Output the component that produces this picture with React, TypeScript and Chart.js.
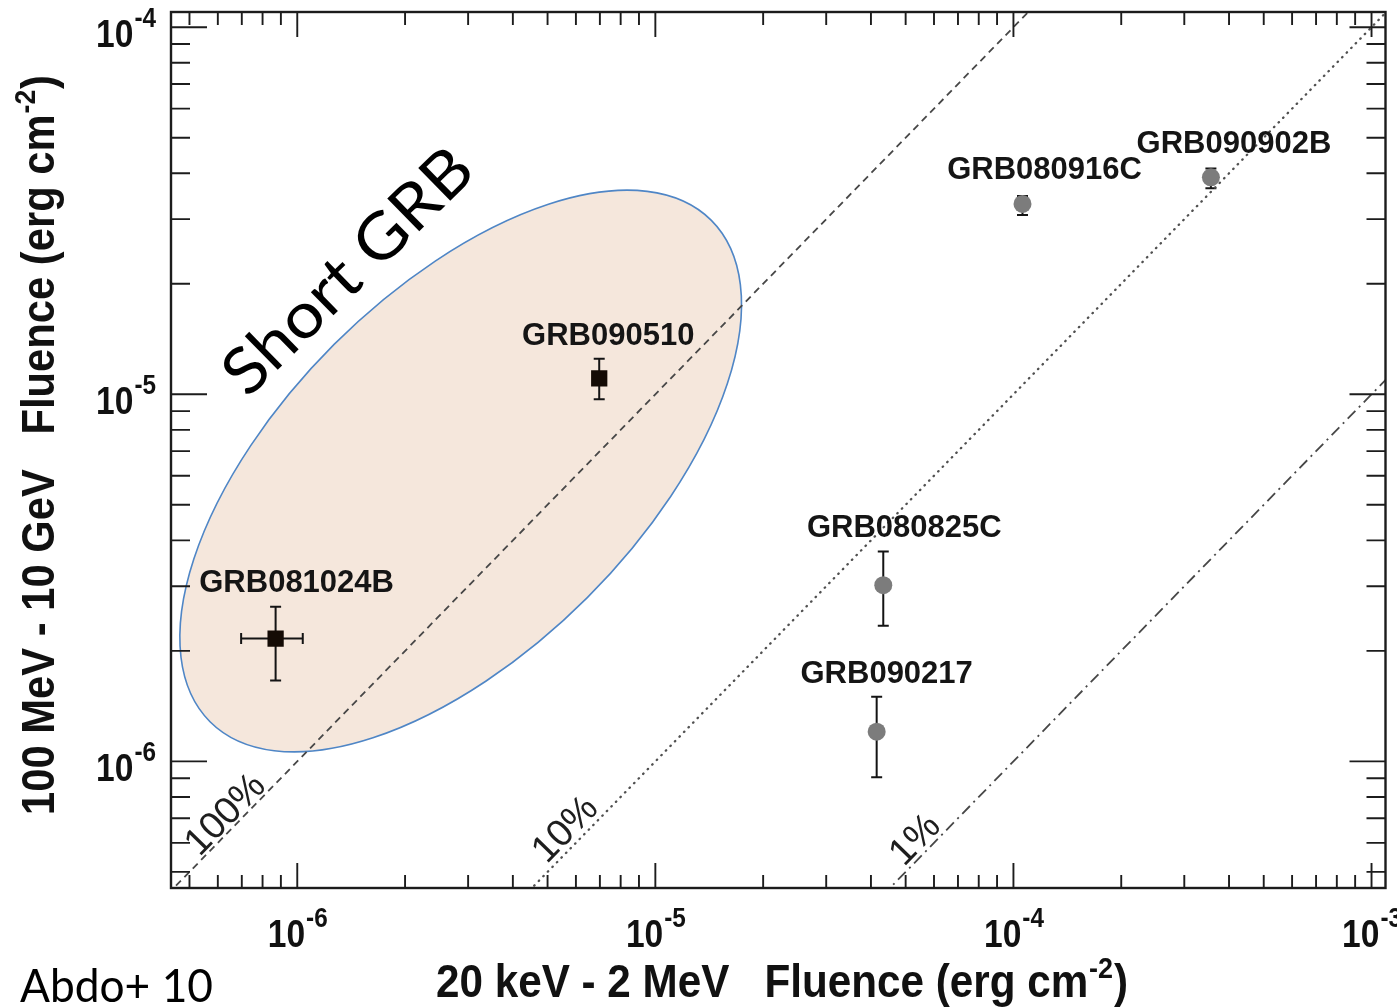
import { useEffect, useRef } from "react";
import { Chart, registerables } from "chart.js";

Chart.register(...registerables);

const W = 1397;
const H = 1007;

// Bursts detected by Fermi LAT, fluences in erg cm^-2
const burstNames = ["GRB081024B", "GRB090510", "GRB080825C", "GRB090217", "GRB080916C", "GRB090902B"];
const isShortBurst = [true, true, false, false, false, false];
// 20 keV - 2 MeV fluence
const gbmFluence = [8.7e-7, 6.97e-6, 4.33e-5, 4.15e-5, 1.06e-4, 3.56e-4];
const gbmFluenceLow = [6.97e-7, null, null, null, null, null];
const gbmFluenceHigh = [1.036e-6, null, null, null, null, null];
// 100 MeV - 10 GeV fluence
const latFluence = [2.16e-6, 1.105e-5, 3.02e-6, 1.205e-6, 3.3e-5, 3.9e-5];
const latFluenceLow = [1.66e-6, 9.7e-6, 2.34e-6, 9.05e-7, 3.08e-5, 3.64e-5];
const latFluenceHigh = [2.64e-6, 1.25e-5, 3.73e-6, 1.5e-6, 3.47e-5, 4.12e-5];

// Constant LAT/GBM fluence ratio lines
const ratioValues = [1, 0.1, 0.01];
const ratioLabels = ["100%", "10%", "1%"];
const ratioLabelX = [6.32e-7, 5.62e-6, 5.33e-5];
const ratioLabelY = [7.14e-7, 6.5e-7, 6.1e-7];
const ratioLineSpan = [1e-8, 1e-2];

// Axis ranges and ticks
const xRange = [4.44e-7, 1.094e-3];
const yRange = [4.52e-7, 1.1e-4];
const xMajorTicks = [1e-6, 1e-5, 1e-4, 1e-3];
const xTickExponents = ["-6", "-5", "-4", "-3"];
const yMajorTicks = [1e-6, 1e-5, 1e-4];
const yTickExponents = ["-6", "-5", "-4"];
const tickDecades = [1e-7, 1e-6, 1e-5, 1e-4];
const tickMantissas = [2, 3, 4, 5, 6, 7, 8, 9];

// Short GRB region: centre (x, y), semi-axes in decades, tilt in degrees
const shortRegionCenter = [2.86e-6, 6.18e-6];
const shortRegionAxes = [0.99, 0.5];
const shortRegionTilt = 45;
const shortRegionText = "Short GRB";
const shortRegionTextAt = [1.524e-6, 1.966e-5];

const xTitle = ["20 keV - 2 MeV   Fluence (erg cm", "-2", ")"];
const yTitle = ["100 MeV - 10 GeV   Fluence (erg cm", "-2", ")"];
const creditText = "Abdo+ 10";

// label placement relative to each marker (px)
const labelDx = [21, 9, 21, 10, 22, 23];
const labelDy = [-47, -33, -48, -49, -25, -24];

const SANS = "'Liberation Sans', Arial, Helvetica, sans-serif";
const INK = "#1c1c1c";

function minorTicks(range: number[]) {
  const out: number[] = [];
  tickDecades.forEach((d) =>
    tickMantissas.forEach((m) => {
      const v = d * m;
      if (v > range[0] && v < range[1]) out.push(v);
    })
  );
  return out;
}

function drawScaledText(ctx: CanvasRenderingContext2D, text: string, x: number, y: number, sx: number) {
  ctx.save();
  ctx.translate(x, y);
  ctx.scale(sx, 1);
  ctx.fillText(text, 0, 0);
  ctx.restore();
}

// "10" with a superscript exponent
function drawPower(
  ctx: CanvasRenderingContext2D,
  exp: string,
  x: number,
  baseline: number,
  align: "center" | "right"
) {
  const mainFont = `bold 39px ${SANS}`;
  const supFont = `bold 27px ${SANS}`;
  const sxMain = 0.86;
  const sxSup = 0.9;
  ctx.textAlign = "left";
  ctx.textBaseline = "alphabetic";
  ctx.font = mainFont;
  const wMain = ctx.measureText("10").width * sxMain;
  ctx.font = supFont;
  const wSup = ctx.measureText(exp).width * sxSup;
  const total = wMain + wSup;
  const start = align === "center" ? x - total / 2 : x - total;
  ctx.font = mainFont;
  drawScaledText(ctx, "10", start, baseline, sxMain);
  ctx.font = supFont;
  drawScaledText(ctx, exp, start + wMain + 1, baseline - 20, sxSup);
}

// axis title centred at local (0,0), fitted to a given width
function drawTitle(ctx: CanvasRenderingContext2D, parts: string[], width: number) {
  const mainFont = `bold 47px ${SANS}`;
  const supFont = `bold 30px ${SANS}`;
  ctx.textAlign = "left";
  ctx.textBaseline = "alphabetic";
  ctx.font = mainFont;
  const w0 = ctx.measureText(parts[0]).width;
  const w2 = ctx.measureText(parts[2]).width;
  ctx.font = supFont;
  const w1 = ctx.measureText(parts[1]).width;
  const natural = w0 + w1 + w2 + 2;
  const sx = width / natural;
  ctx.save();
  ctx.scale(sx, 1);
  let cur = -natural / 2;
  ctx.font = mainFont;
  ctx.fillText(parts[0], cur, 0);
  cur += w0 + 1;
  ctx.font = supFont;
  ctx.fillText(parts[1], cur, -19);
  cur += w1 + 1;
  ctx.font = mainFont;
  ctx.fillText(parts[2], cur, 0);
  ctx.restore();
}

const overlayPlugin = {
  id: "fluenceOverlay",
  beforeDatasetsDraw(chart: any) {
    const { ctx } = chart;
    const xs = chart.scales.x;
    const ys = chart.scales.y;
    const pxDecX = xs.getPixelForValue(1e-5) - xs.getPixelForValue(1e-6);

    // Short GRB region
    const cx = xs.getPixelForValue(shortRegionCenter[0]);
    const cy = ys.getPixelForValue(shortRegionCenter[1]);
    ctx.save();
    ctx.beginPath();
    ctx.ellipse(
      cx,
      cy,
      shortRegionAxes[0] * pxDecX,
      shortRegionAxes[1] * pxDecX,
      (-shortRegionTilt * Math.PI) / 180,
      0,
      Math.PI * 2
    );
    ctx.fillStyle = "#f5e7dc";
    ctx.fill();
    ctx.lineWidth = 1.6;
    ctx.strokeStyle = "#4f86c6";
    ctx.stroke();
    ctx.restore();

    // error bars
    ctx.save();
    ctx.strokeStyle = "#141414";
    ctx.lineWidth = 2;
    const cap = 5.5;
    gbmFluence.forEach((gx, i) => {
      const px = xs.getPixelForValue(gx);
      const py = ys.getPixelForValue(latFluence[i]);
      const yl = ys.getPixelForValue(latFluenceLow[i]);
      const yh = ys.getPixelForValue(latFluenceHigh[i]);
      ctx.beginPath();
      ctx.moveTo(px, yl);
      ctx.lineTo(px, yh);
      ctx.moveTo(px - cap, yl);
      ctx.lineTo(px + cap, yl);
      ctx.moveTo(px - cap, yh);
      ctx.lineTo(px + cap, yh);
      const lo = gbmFluenceLow[i];
      const hi = gbmFluenceHigh[i];
      if (lo != null && hi != null) {
        const xl = xs.getPixelForValue(lo);
        const xh = xs.getPixelForValue(hi);
        ctx.moveTo(xl, py);
        ctx.lineTo(xh, py);
        ctx.moveTo(xl, py - cap);
        ctx.lineTo(xl, py + cap);
        ctx.moveTo(xh, py - cap);
        ctx.lineTo(xh, py + cap);
      }
      ctx.stroke();
    });
    ctx.restore();
  },
  afterDraw(chart: any) {
    const { ctx, chartArea: a } = chart;
    const xs = chart.scales.x;
    const ys = chart.scales.y;
    const pxDecX = xs.getPixelForValue(1e-5) - xs.getPixelForValue(1e-6);
    const pxDecY = ys.getPixelForValue(1e-6) - ys.getPixelForValue(1e-5);

    ctx.save();
    // frame
    ctx.strokeStyle = INK;
    ctx.lineWidth = 2.4;
    ctx.strokeRect(a.left, a.top, a.right - a.left, a.bottom - a.top);

    // inward ticks on all four sides
    ctx.lineWidth = 1.9;
    ctx.beginPath();
    const xTick = (v: number, len: number) => {
      const p = xs.getPixelForValue(v);
      ctx.moveTo(p, a.bottom);
      ctx.lineTo(p, a.bottom - len);
      ctx.moveTo(p, a.top);
      ctx.lineTo(p, a.top + len);
    };
    const yTick = (v: number, len: number) => {
      const p = ys.getPixelForValue(v);
      ctx.moveTo(a.left, p);
      ctx.lineTo(a.left + len, p);
      ctx.moveTo(a.right, p);
      ctx.lineTo(a.right - len, p);
    };
    xMajorTicks.forEach((v) => xTick(v, 25));
    minorTicks(xRange).forEach((v) => xTick(v, 13));
    yMajorTicks.forEach((v) => yTick(v, 36));
    minorTicks(yRange).forEach((v) => yTick(v, 19));
    ctx.stroke();

    // tick labels
    ctx.fillStyle = "#111";
    xMajorTicks.forEach((v, i) => drawPower(ctx, xTickExponents[i], xs.getPixelForValue(v), 947, "center"));
    yMajorTicks.forEach((v, i) => drawPower(ctx, yTickExponents[i], 155, ys.getPixelForValue(v) + 20, "right"));

    // axis titles
    ctx.save();
    ctx.translate(782, 997);
    drawTitle(ctx, xTitle, 692);
    ctx.restore();
    ctx.save();
    ctx.translate(54, 445);
    ctx.rotate(-Math.PI / 2);
    drawTitle(ctx, yTitle, 740);
    ctx.restore();

    // burst labels
    ctx.font = `bold 31px ${SANS}`;
    ctx.textAlign = "center";
    ctx.textBaseline = "alphabetic";
    ctx.fillStyle = "#151515";
    burstNames.forEach((name, i) => {
      const px = xs.getPixelForValue(gbmFluence[i]);
      const py = ys.getPixelForValue(latFluence[i]);
      ctx.fillText(name, px + labelDx[i], py + labelDy[i]);
    });

    // ratio labels along the lines
    const lineAngle = Math.atan2(pxDecY, pxDecX);
    ctx.font = `38px ${SANS}`;
    ctx.fillStyle = "#1e1e1e";
    ctx.textBaseline = "middle";
    ratioLabels.forEach((t, i) => {
      ctx.save();
      ctx.translate(xs.getPixelForValue(ratioLabelX[i]), ys.getPixelForValue(ratioLabelY[i]));
      ctx.rotate(-lineAngle);
      ctx.fillText(t, 0, 0);
      ctx.restore();
    });

    // Short GRB annotation
    ctx.save();
    ctx.translate(xs.getPixelForValue(shortRegionTextAt[0]), ys.getPixelForValue(shortRegionTextAt[1]));
    ctx.rotate((-44.4 * Math.PI) / 180);
    ctx.font = `64px Lato, 'Open Sans', sans-serif`;
    ctx.textAlign = "left";
    ctx.textBaseline = "alphabetic";
    ctx.fillStyle = "#000";
    const sw = ctx.measureText(shortRegionText).width;
    const sgx = 322 / sw;
    ctx.scale(sgx, 1);
    ctx.fillText(shortRegionText, -sw / 2, 0);
    ctx.restore();

    // credit
    ctx.font = `47px Lato, 'Open Sans', sans-serif`;
    ctx.textAlign = "left";
    ctx.textBaseline = "alphabetic";
    ctx.fillStyle = "#000";
    const cw = ctx.measureText(creditText).width;
    drawScaledText(ctx, creditText, 20, 1002, 193 / cw);

    ctx.restore();
  },
};

const ratioColors = ["#474747", "#505050", "#474747"];
const ratioWidths = [1.8, 2.3, 1.8];
const ratioDashes = [[7, 5], [0.5, 6], [11, 5, 2, 5]];

export default function App() {
  const canvasRef = useRef<HTMLCanvasElement | null>(null);

  useEffect(() => {
    document.body.style.margin = "0";
    const canvas = canvasRef.current;
    if (!canvas) return;

    const burstPoints = gbmFluence.map((x, i) => ({ x, y: latFluence[i] }));
    const ratioSets = ratioValues.map((k, i) => ({
      label: ratioLabels[i],
      data: ratioLineSpan.map((v) => ({ x: v, y: k * v })),
      showLine: true,
      pointRadius: 0,
      borderColor: ratioColors[i],
      borderWidth: ratioWidths[i],
      borderDash: ratioDashes[i],
      borderCapStyle: i === 1 ? "round" : "butt",
      fill: false,
    }));

    const chart = new Chart(canvas, {
      type: "scatter",
      data: {
        datasets: [
          {
            label: "bursts",
            data: burstPoints,
            showLine: false,
            pointStyle: isShortBurst.map((s) => (s ? "rect" : "circle")),
            pointRadius: isShortBurst.map((s) => (s ? 11.5 : 9)),
            pointBackgroundColor: isShortBurst.map((s) => (s ? "#140b05" : "#7c7c7c")),
            pointBorderWidth: 0,
          } as any,
          ...(ratioSets as any[]),
        ],
      },
      options: {
        animation: false,
        responsive: false,
        maintainAspectRatio: false,
        events: [],
        layout: { padding: { left: 171, top: 12, right: 4, bottom: 119 } },
        scales: {
          x: { type: "logarithmic", min: xRange[0], max: xRange[1], display: false },
          y: { type: "logarithmic", min: yRange[0], max: yRange[1], display: false },
        },
        plugins: {
          legend: { display: false },
          tooltip: { enabled: false },
        },
      },
      plugins: [overlayPlugin],
    });

    return () => chart.destroy();
  }, []);

  return (
    <div style={{ position: "absolute", left: 0, top: 0, width: W, height: H, background: "#fff" }}>
      <canvas ref={canvasRef} width={W} height={H} style={{ width: W, height: H, display: "block" }} />
    </div>
  );
}
